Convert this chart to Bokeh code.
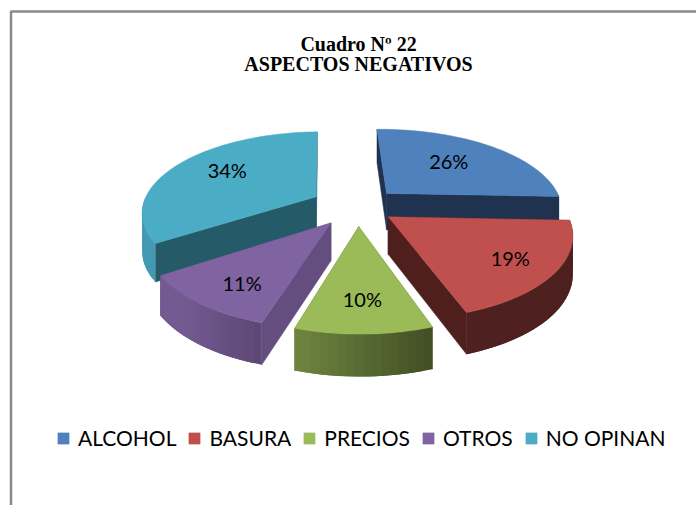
import numpy as np
from bokeh.plotting import figure
from bokeh.models import Range1d, Legend, LegendItem
from bokeh.core.properties import value
from bokeh.embed import file_html
from bokeh.resources import INLINE

title_lines = ["Cuadro Nº 22", "ASPECTOS NEGATIVOS"]
categories = ["ALCOHOL", "BASURA", "PRECIOS", "OTROS", "NO OPINAN"]
shares = [26, 19, 10, 11, 34]
labels = ["26%", "19%", "10%", "11%", "34%"]
colors = ["#4f81bd", "#c0504d", "#9bbb59", "#8064a2", "#4bacc6"]
wall_colors = ["#1f3350", "#4f1f1e", "#5f7336", "#644e80", "#255a68"]
label_radius = [0.62, 0.72, 0.71, 0.75, 0.70]
label_turn = [-3, 0, 0, -2, 4]
explode = [41, 36, 41, 42, 46]

CX, CY, R, EXPL, K, PERSP, DEPTH = 357, 206, 170, 42, 0.47, 946, 37
WIDEN, SKEW_X, SKEW_Y = 1.03, 0.03, 0.01


def project(X, Y, z=0.0):
    s = PERSP / (PERSP + Y)
    x = WIDEN * X * s - SKEW_X * Y
    return CX + x, CY - K * Y * s - SKEW_Y * x + z * s ** 0.55


def mix(col, f):
    rgb = [int(col[i:i + 2], 16) for i in (1, 3, 5)]
    return "#%02x%02x%02x" % tuple(int(min(255, c * f)) for c in rgb)


p = figure(width=696, height=505, x_range=Range1d(0, 696), y_range=Range1d(505, 0),
           output_backend="svg", toolbar_location=None, min_border=0,
           outline_line_color=None, background_fill_color="white")
p.axis.visible = False
p.grid.visible = False

# chart frame
p.line([10.5, 10.5, 696], [505, 11, 11], line_color="#8a8a8a", line_width=2.5)

total = sum(shares)
edges = np.cumsum([0] + shares) / total * 2 * np.pi
renderers = {}
# slices in painter's order: back ones first
for i in [4, 0, 1, 3, 2]:
    a0, a1 = edges[i], edges[i + 1]
    mid = (a0 + a1) / 2
    ox, oy = explode[i] * np.sin(mid), explode[i] * np.cos(mid)
    th = np.linspace(a0, a1, max(8, int((a1 - a0) / 0.035)))
    X = ox + R * np.sin(th)
    Y = oy + R * np.cos(th)
    tx, ty = project(X, Y)
    bx, by = project(X, Y, DEPTH)
    ax, ay = project(ox, oy)
    ax2, ay2 = project(ox, oy, DEPTH)
    # flat cut faces
    for k in (0, -1):
        p.patch([ax, tx[k], bx[k], ax2], [ay, ty[k], by[k], ay2],
                fill_color=wall_colors[i], line_color=wall_colors[i], line_width=0.5)
    # curved outer wall: overlapping strips, shaded left (light) to right (dark)
    for j in range(len(th) - 1):
        m = (th[j] + th[j + 1]) / 2
        if np.cos(m) > 0.02:
            continue
        c = mix(colors[i], float(np.clip(0.57 - 0.48 * np.sin(m), 0.41, 0.9)))
        n = min(j + 2, len(th) - 1)
        p.patch([tx[j], tx[n], bx[n], bx[j]], [ty[j], ty[n], by[n], by[j]],
                fill_color=c, line_color=None)
    renderers[i] = p.patch([ax] + list(tx), [ay] + list(ty), fill_color=colors[i],
                           line_color=colors[i], line_width=0.5)

# value labels
lx, ly = [], []
for i in range(len(shares)):
    mid = (edges[i] + edges[i + 1]) / 2 + np.radians(label_turn[i])
    r = EXPL + R * label_radius[i]
    x, y = project(r * np.sin(mid), r * np.cos(mid))
    lx.append(x)
    ly.append(y)
p.text(lx, ly, text=labels, text_font=value("Lato"), text_font_size="20px", text_color="black",
       text_align="center", text_baseline="middle")

for t, y in zip(title_lines, [43, 63]):
    p.text([358], [y], text=[t], text_font=value("Liberation Serif"), text_font_style="bold",
           text_font_size="20px", text_color="black", text_align="center", text_baseline="middle")

legend = Legend(items=[LegendItem(label=categories[i], renderers=[renderers[i]]) for i in range(5)],
                orientation="horizontal", location=(56, 55), border_line_color=None,
                background_fill_alpha=0, label_text_font="Lato", label_text_font_size="21px",
                label_text_color="black", glyph_width=14, glyph_height=14, label_standoff=8,
                spacing=11, padding=0, margin=0)
p.add_layout(legend)

open("out.html", "w").write(file_html(p, INLINE))
